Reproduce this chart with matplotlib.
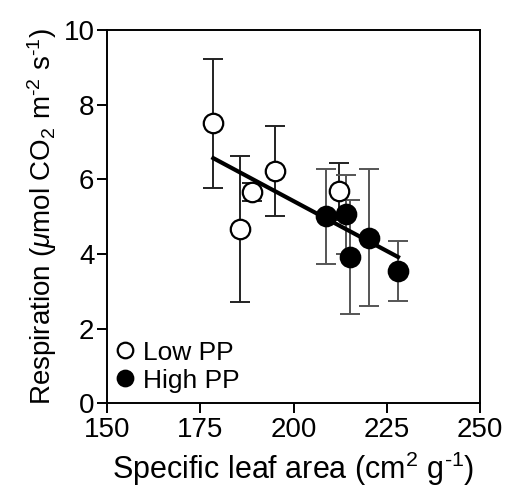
import numpy as np
import matplotlib as mpl
import matplotlib.pyplot as plt

mpl.rc('font', family='Liberation Sans', size=16)
mpl.rcParams['mathtext.fontset'] = 'custom'
mpl.rcParams['mathtext.rm'] = 'Liberation Sans'
mpl.rcParams['mathtext.it'] = 'Liberation Sans:italic'

# Low PP (open circles)
sla_low = np.array([178.5, 185.7, 188.8, 195.0, 212.3])
resp_low = np.array([7.50, 4.68, 5.66, 6.23, 5.68])
err_low = np.array([1.72, 1.96, 0.25, 1.20, 0.77])

# High PP (filled circles)
sla_high = np.array([208.6, 214.1, 215.1, 220.1, 228.1])
resp_high = np.array([5.01, 5.06, 3.91, 4.44, 3.55])
err_high = np.array([1.28, 1.05, 1.53, 1.84, 0.80])

# regression line end points
fit_x = np.array([178.5, 228.0])
fit_y = np.array([6.57, 3.92])

fig = plt.figure(figsize=(5.07, 5.04), dpi=100)
ax = fig.add_axes([0.211, 0.200, 0.736, 0.740])

ax.plot(fit_x, fit_y, 'k-', lw=3, zorder=2)

ax.errorbar(sla_low, resp_low, yerr=err_low, fmt='none', ecolor='#222222',
            elinewidth=1.4, capsize=7, capthick=1.4, zorder=1)
ax.errorbar(sla_high, resp_high, yerr=err_high, fmt='none', ecolor='#555555',
            elinewidth=1.4, capsize=7, capthick=1.4, zorder=1)
ax.plot(sla_low, resp_low, 'o', mfc='white', mec='black', mew=1.6, ms=14,
        zorder=3, label='Low PP')
ax.plot(sla_high, resp_high, 'o', mfc='black', mec='black', mew=1.6, ms=14,
        zorder=3, label='High PP')

ax.set_xlim(150, 250)
ax.set_ylim(0, 10)
ax.set_xticks([150, 175, 200, 225, 250])
ax.set_yticks([0, 2, 4, 6, 8, 10])
ax.tick_params(direction='out', length=7, width=1.4, labelsize=20)
ax.tick_params(axis='x', pad=3)
ax.tick_params(axis='y', pad=2)
for s in ax.spines.values():
    s.set_linewidth(1.4)

ax.set_xlabel(r'Specific leaf area (cm$^{2}$ g$^{\text{-}1}$)', fontsize=22, labelpad=5)
ax.set_ylabel(r'Respiration ($\mathit{\mu}$mol CO$_{2}$ m$^{\text{-}2}$ s$^{\text{-}1}$)',
              fontsize=20, labelpad=3)

ax.legend(loc='lower left', frameon=False, fontsize=19, markerscale=0.8,
          handlelength=0.6, handletextpad=0.35, labelspacing=0.15,
          borderaxespad=0.1, borderpad=0.3)

plt.savefig('out.png', dpi=100)
